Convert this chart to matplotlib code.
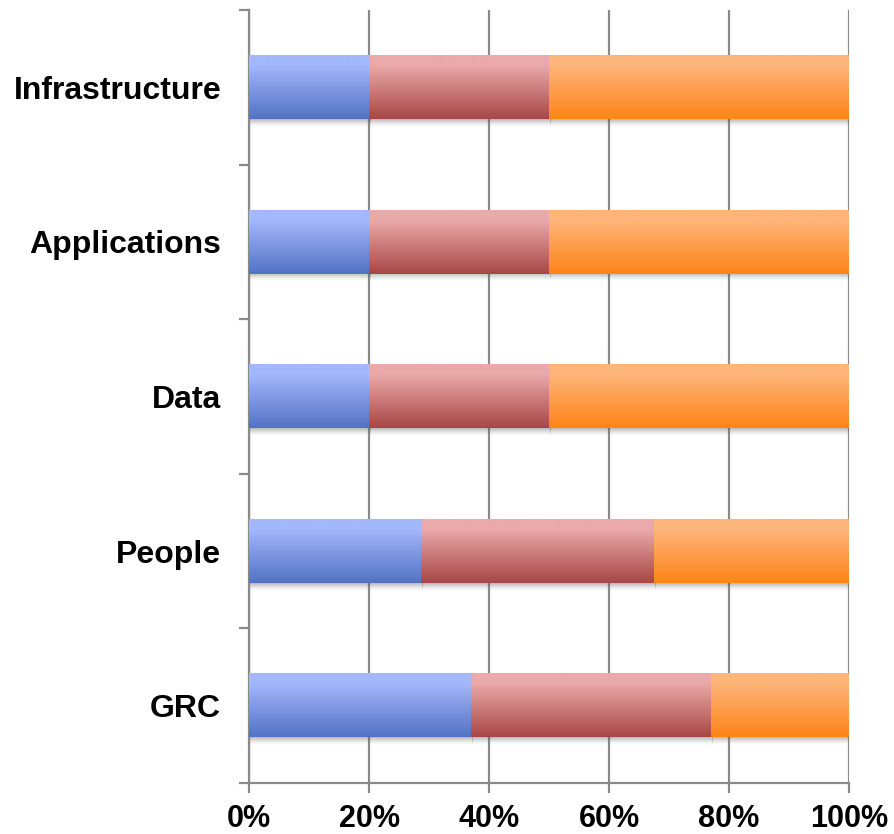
import matplotlib
matplotlib.use("Agg")
import matplotlib.pyplot as plt
import numpy as np
from matplotlib.colors import LinearSegmentedColormap
from matplotlib.ticker import FixedLocator, PercentFormatter

categories = ["GRC", "People", "Data", "Applications", "Infrastructure"]
series1 = [37.0, 28.7, 20.0, 20.0, 20.0]
series2 = [40.0, 38.8, 30.0, 30.0, 30.0]
series3 = [23.0, 32.5, 50.0, 50.0, 50.0]
xticks = [0, 20, 40, 60, 80, 100]

grad_colors = [
    ("#A4B8FC", "#5372C4"),
    ("#EBAAAA", "#A84646"),
    ("#FDB57A", "#FE8418"),
]

plt.rcParams['font.family'] = ['Liberation Sans', 'DejaVu Sans']

fig = plt.figure(figsize=(8.94, 8.34), dpi=100)
ax = fig.add_axes([249/894, 1-783/834, 600/894, 773/834])

y = np.arange(len(categories))
h = 0.41
left = np.zeros(len(categories))
all_bars = []
for vals, (ctop, cbot) in zip([series1, series2, series3], grad_colors):
    bars = ax.barh(y, vals, left=left, height=h, color="none", edgecolor="none", zorder=3)
    all_bars.append((bars, ctop, cbot))
    left = left + np.array(vals)

grad = np.linspace(0, 1, 256).reshape(-1, 1)
shadow = np.zeros((64, 1, 4))
shadow[..., :3] = 0.35
shadow[:, 0, 3] = np.linspace(0.55, 0.0, 64) ** 1.4

for bars, ctop, cbot in all_bars:
    cmap = LinearSegmentedColormap.from_list("g", [(0, ctop), (0.15, ctop), (1, cbot)], N=256)
    for p in bars:
        x0, y0 = p.get_x(), p.get_y()
        w, hh = p.get_width(), p.get_height()
        ax.imshow(grad, cmap=cmap, aspect="auto", interpolation="bicubic",
                  extent=(x0, x0 + w, y0, y0 + hh), origin="upper", zorder=3)
        ax.imshow(shadow, aspect="auto", interpolation="bilinear",
                  extent=(x0 + 0.2, x0 + w + 0.3, y0 - 0.05, y0),
                  origin="upper", zorder=2.5)

ax.set_xlim(0, 100)
ax.set_ylim(-0.5, len(categories) - 0.5)

gray = "#8A8A8A"
ax.set_xticks(xticks)
ax.xaxis.set_major_formatter(PercentFormatter(decimals=0))
ax.grid(axis="x", color=gray, linewidth=1.6, zorder=1)
ax.set_axisbelow(True)

ax.set_yticks(y)
ax.set_yticklabels(categories)
ax.yaxis.set_minor_locator(FixedLocator(np.arange(-0.5, len(categories), 1.0)))
ax.tick_params(axis="y", which="major", length=0, pad=20)
ax.tick_params(axis="y", which="minor", length=7, width=1.6, color=gray, direction="out")
ax.tick_params(axis="x", which="major", length=7, width=1.6, color=gray, direction="out", pad=8)

for lab in ax.get_yticklabels():
    lab.set_fontsize(23)
    lab.set_fontweight("bold")
for lab in ax.get_xticklabels():
    lab.set_fontsize(22)
    lab.set_fontweight("bold")

for s in ["top", "right"]:
    ax.spines[s].set_visible(False)
for s in ["left", "bottom"]:
    ax.spines[s].set_color(gray)
    ax.spines[s].set_linewidth(1.6)

fig.savefig("out.png", dpi=100)
